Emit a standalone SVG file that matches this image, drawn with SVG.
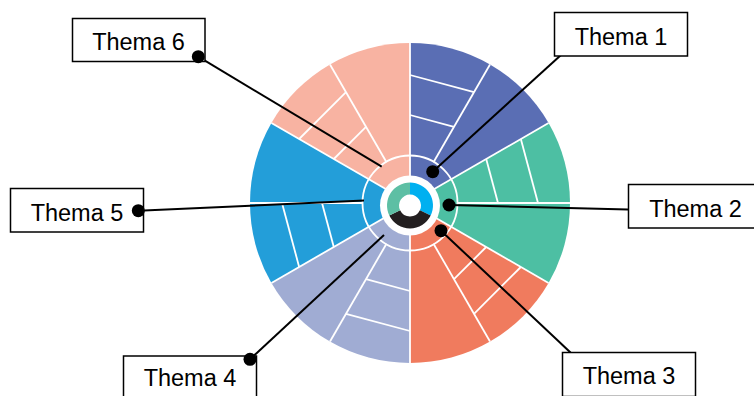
<svg xmlns="http://www.w3.org/2000/svg" width="754" height="396" viewBox="0 0 754 396">
<style>
.sep{stroke:#ffffff;stroke-width:1.8;fill:none}
.box{fill:#ffffff;stroke:#000000;stroke-width:1.5}
.lbl{font-family:"Liberation Sans",Arial,sans-serif;font-size:23.5px;fill:#000000;text-anchor:middle}
.con{stroke:#000000;stroke-width:2;fill:none}
.dot{fill:#000000}
</style>
<rect width="754" height="396" fill="#ffffff"/>
<g id="wheel">
<path d="M410,203 L410,43 A160,160 0 0 1 548.56,123 Z" fill="#5A6EB4"/>
<path d="M410,203 L548.56,123 A160,160 0 0 1 548.56,283 Z" fill="#4DBFA3"/>
<path d="M410,203 L548.56,283 A160,160 0 0 1 410,363 Z" fill="#F07B5E"/>
<path d="M410,203 L410,363 A160,160 0 0 1 271.44,283 Z" fill="#A0ACD3"/>
<path d="M410,203 L271.44,283 A160,160 0 0 1 271.44,123 Z" fill="#239ED9"/>
<path d="M410,203 L271.44,123 A160,160 0 0 1 410,43 Z" fill="#F8B3A2"/>
<g class="sep">
<line x1="410" y1="203" x2="410" y2="43"/>
<line x1="410" y1="203" x2="548.56" y2="123"/>
<line x1="410" y1="203" x2="548.56" y2="283"/>
<line x1="410" y1="203" x2="410" y2="363"/>
<line x1="410" y1="203" x2="271.44" y2="283"/>
<line x1="410" y1="203" x2="271.44" y2="123"/>
<line x1="433.5" y1="162.3" x2="490" y2="64.44"/>
<line x1="457" y1="203" x2="570" y2="203"/>
<line x1="433.5" y1="243.7" x2="490" y2="341.56"/>
<line x1="386.5" y1="243.7" x2="330" y2="341.56"/>
<line x1="363" y1="203" x2="250" y2="203"/>
<line x1="386.5" y1="162.3" x2="330" y2="64.44"/>
<line x1="410" y1="115" x2="454" y2="126.79"/>
<line x1="410" y1="75" x2="474" y2="92.15"/>
<line x1="486.21" y1="159" x2="498" y2="203"/>
<line x1="520.85" y1="139" x2="538" y2="203"/>
<line x1="486.21" y1="247" x2="454" y2="279.21"/>
<line x1="520.85" y1="267" x2="474" y2="313.85"/>
<line x1="410" y1="291" x2="366" y2="279.21"/>
<line x1="410" y1="331" x2="346" y2="313.85"/>
<line x1="333.79" y1="247" x2="322" y2="203"/>
<line x1="299.15" y1="267" x2="282" y2="203"/>
<line x1="333.79" y1="159" x2="366" y2="126.79"/>
<line x1="299.15" y1="139" x2="346" y2="92.15"/>
<circle cx="410" cy="203" r="47.5"/>
</g>
<circle cx="410" cy="205.5" r="30" fill="#ffffff"/>
<path d="M410,182.5 A23,23 0 0 1 430.67,215.58 L419.89,210.32 A11,11 0 0 0 410,194.5 Z" fill="#00B0F0"/>
<path d="M430.67,215.58 A23,23 0 0 1 389.33,215.58 L400.11,210.32 A11,11 0 0 0 419.89,210.32 Z" fill="#231F20"/>
<path d="M389.33,215.58 A23,23 0 0 1 410,182.5 L410,194.5 A11,11 0 0 0 400.11,210.32 Z" fill="#5DBFA4"/>
</g>
<g id="connectors">
<line class="con" x1="561" y1="55" x2="432.7" y2="171.7"/>
<line class="con" x1="628" y1="209.5" x2="449" y2="205"/>
<line class="con" x1="571" y1="353" x2="441" y2="230.7"/>
<line class="con" x1="250" y1="359.3" x2="384" y2="235"/>
<line class="con" x1="138.3" y1="210.7" x2="364" y2="200.5"/>
<line class="con" x1="198.3" y1="56.7" x2="381.7" y2="166.7"/>
</g>
<g id="thema1">
<rect class="box" x="554.5" y="12.5" width="133" height="43.5"/>
<text class="lbl" x="621" y="44.5">Thema 1</text>
<circle class="dot" cx="432.7" cy="171.7" r="6.5"/>
</g>
<g id="thema2">
<rect class="box" x="628.5" y="184.5" width="134" height="43.5"/>
<text class="lbl" x="695.5" y="216.5">Thema 2</text>
<circle class="dot" cx="449" cy="205" r="6.5"/>
</g>
<g id="thema3">
<rect class="box" x="562.5" y="352.5" width="133" height="44"/>
<text class="lbl" x="629" y="384">Thema 3</text>
<circle class="dot" cx="441" cy="230.7" r="6.5"/>
</g>
<g id="thema4">
<rect class="box" x="123.5" y="356" width="133" height="44"/>
<text class="lbl" x="190" y="386">Thema 4</text>
<circle class="dot" cx="250" cy="359.3" r="6.5"/>
</g>
<g id="thema5">
<rect class="box" x="10.5" y="188.5" width="133" height="43.5"/>
<text class="lbl" x="77" y="220.5">Thema 5</text>
<circle class="dot" cx="138.3" cy="210.7" r="6.5"/>
</g>
<g id="thema6">
<rect class="box" x="72.5" y="18.5" width="132.5" height="43"/>
<text class="lbl" x="138.5" y="49.5">Thema 6</text>
<circle class="dot" cx="198.3" cy="56.7" r="6.5"/>
</g>
</svg>
